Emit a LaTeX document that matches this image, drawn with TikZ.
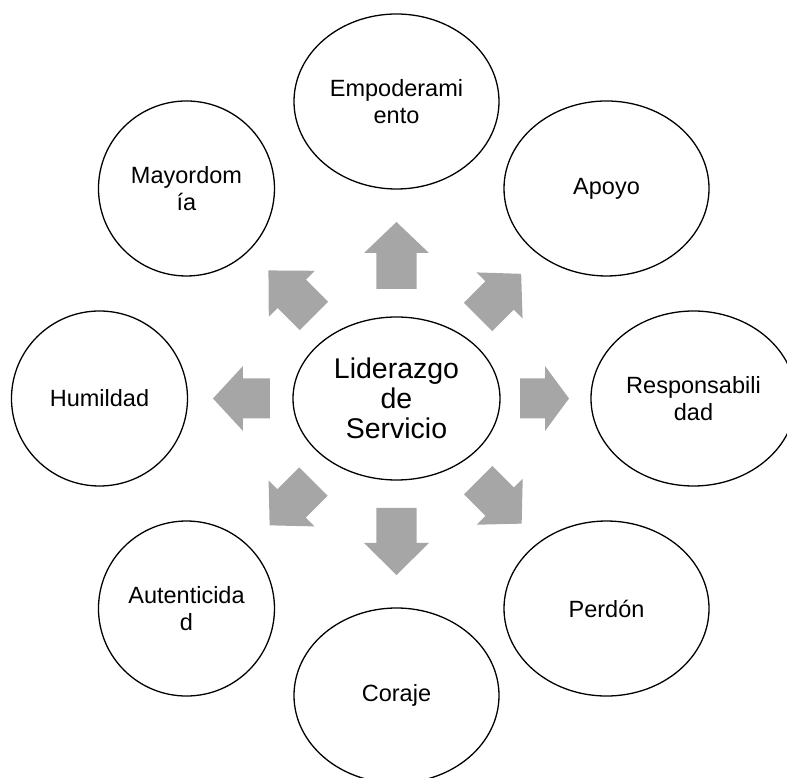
\documentclass[tikz,border=0pt]{standalone}
\usepackage{fontspec}
\setmainfont{Liberation Sans}
\usetikzlibrary{shapes.geometric}

\definecolor{arrowgray}{RGB}{166,166,166}

% block arrow: angle, back, length, head length
\newcommand{\blockarrow}[4]{%
  \fill[arrowgray, rotate=#1] (#2,-20) -- ({#2+#3-#4},-20) -- ({#2+#3-#4},-32.5)
    -- ({#2+#3},0) -- ({#2+#3-#4},32.5) -- ({#2+#3-#4},20) -- (#2,20) -- cycle;}

\begin{document}
\begin{tikzpicture}[x = 1pt, y = 1pt,
    bigoval/.style = {ellipse, draw, line width = 1.3pt, inner sep = 0pt,
      minimum width = 205pt, minimum height = 175pt, align = center,
      font = \fontsize{23.5}{26.5}\selectfont},
    smalloval/.style = {bigoval, minimum width = 176pt}]

    \useasboundingbox (-396.5, -379.5) rectangle (390.5, 398.5);

    %centre
    \node (lider) at (0, 0) [ellipse, draw, line width = 1.3pt, inner sep = 0pt,
      minimum width = 207pt, minimum height = 163pt, align = center,
      font = \fontsize{28.5}{30}\selectfont] {Liderazgo\\de\\Servicio};

    %arrows
    \blockarrow{90}{109.5}{67}{31}
    \blockarrow{45}{115.3}{61}{30.5}
    \blockarrow{0}{123.5}{49}{24}
    \blockarrow{-45}{115.6}{61.4}{31}
    \blockarrow{-90}{109.5}{67}{32}
    \blockarrow{-135}{117.4}{62}{31}
    \blockarrow{180}{126.5}{57}{30}
    \blockarrow{135}{116.7}{64.4}{33}

    %outer values
    \node (empo) at (90:297) [bigoval] {Empoderami\\ento};
    \node (apoyo) at (45:297) [bigoval] {Apoyo};
    \node (resp) at (0:297) [bigoval] {Responsabili\\dad};
    \node (perdon) at (-45:297) [bigoval] {Perdón};
    \node (coraje) at (-90:297) [bigoval] {Coraje};
    \node (auten) at (-135:297) [smalloval] {Autenticida\\d};
    \node (humil) at (180:297) [smalloval] {Humildad};
    \node (mayor) at (135:297) [smalloval] {Mayordom\\ía};

\end{tikzpicture}
\end{document}
